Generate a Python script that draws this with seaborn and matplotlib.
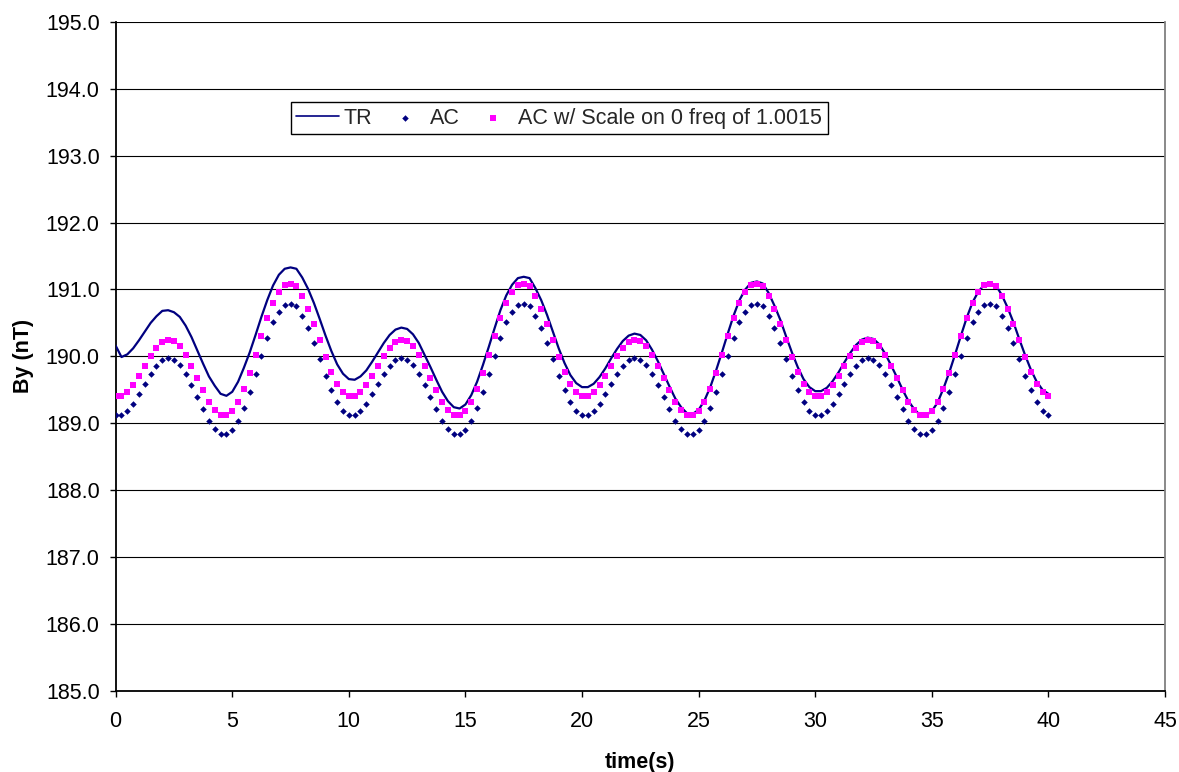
import numpy as np
import pandas as pd
import seaborn as sns
import matplotlib.pyplot as plt

# By (nT), one sample every 0.25 s from 0 s to 40 s
tr_by = [
    190.16, 189.99, 190.03, 190.12, 190.24, 190.37, 190.50, 190.60, 190.68, 190.69,
    190.66, 190.59, 190.46, 190.29, 190.09, 189.89, 189.70, 189.56, 189.44, 189.41,
    189.47, 189.62, 189.83, 190.06, 190.32, 190.59, 190.84, 191.06, 191.22, 191.31,
    191.33, 191.31, 191.18, 191.01, 190.80, 190.56, 190.31, 190.08, 189.88, 189.74,
    189.66, 189.65, 189.70, 189.79, 189.92, 190.06, 190.20, 190.32, 190.40, 190.43,
    190.41, 190.33, 190.20, 190.02, 189.84, 189.65, 189.47, 189.33, 189.24, 189.22,
    189.28, 189.42, 189.62, 189.87, 190.14, 190.42, 190.69, 190.91, 191.07, 191.17,
    191.19, 191.17, 191.02, 190.84, 190.62, 190.37, 190.12, 189.90, 189.72, 189.60,
    189.54, 189.54, 189.59, 189.69, 189.82, 189.97, 190.11, 190.23, 190.31, 190.34,
    190.32, 190.24, 190.10, 189.93, 189.74, 189.55, 189.37, 189.24, 189.15, 189.14,
    189.20, 189.34, 189.54, 189.79, 190.06, 190.34, 190.61, 190.84, 191.00, 191.10,
    191.12, 191.09, 190.95, 190.76, 190.55, 190.30, 190.06, 189.84, 189.66, 189.54,
    189.48, 189.48, 189.53, 189.63, 189.76, 189.91, 190.05, 190.17, 190.25, 190.28,
    190.26, 190.18, 190.04, 189.87, 189.69, 189.50, 189.33, 189.21, 189.12, 189.12,
    189.18, 189.31, 189.52, 189.76, 190.03, 190.31, 190.58, 190.81, 190.97, 191.07,
    191.09, 191.06, 190.92, 190.73, 190.51, 190.26, 190.02, 189.80, 189.62, 189.50,
    189.44,
]
ac_by = [
    189.13, 189.13, 189.19, 189.29, 189.43, 189.58, 189.73, 189.85, 189.94, 189.97,
    189.95, 189.87, 189.74, 189.57, 189.39, 189.21, 189.04, 188.92, 188.84, 188.84,
    188.90, 189.03, 189.23, 189.47, 189.74, 190.01, 190.28, 190.51, 190.67, 190.77,
    190.79, 190.76, 190.61, 190.42, 190.20, 189.96, 189.71, 189.49, 189.31, 189.19,
    189.13, 189.13, 189.19, 189.29, 189.43, 189.58, 189.73, 189.85, 189.94, 189.97,
    189.95, 189.87, 189.74, 189.57, 189.39, 189.21, 189.04, 188.92, 188.84, 188.84,
    188.90, 189.03, 189.23, 189.47, 189.74, 190.01, 190.28, 190.51, 190.67, 190.77,
    190.79, 190.76, 190.61, 190.42, 190.20, 189.96, 189.71, 189.49, 189.31, 189.19,
    189.13, 189.13, 189.19, 189.29, 189.43, 189.58, 189.73, 189.85, 189.94, 189.97,
    189.95, 189.87, 189.74, 189.57, 189.39, 189.21, 189.04, 188.92, 188.84, 188.84,
    188.90, 189.03, 189.23, 189.47, 189.74, 190.01, 190.28, 190.51, 190.67, 190.77,
    190.79, 190.76, 190.61, 190.42, 190.20, 189.96, 189.71, 189.49, 189.31, 189.19,
    189.13, 189.13, 189.19, 189.29, 189.43, 189.58, 189.73, 189.85, 189.94, 189.97,
    189.95, 189.87, 189.74, 189.57, 189.39, 189.21, 189.04, 188.92, 188.84, 188.84,
    188.90, 189.03, 189.23, 189.47, 189.74, 190.01, 190.28, 190.51, 190.67, 190.77,
    190.79, 190.76, 190.61, 190.42, 190.20, 189.96, 189.71, 189.49, 189.31, 189.19,
    189.13,
]
ac_scaled_by = [
    189.41, 189.41, 189.47, 189.57, 189.71, 189.86, 190.01, 190.13, 190.22, 190.25,
    190.23, 190.15, 190.02, 189.85, 189.67, 189.49, 189.32, 189.20, 189.12, 189.12,
    189.18, 189.31, 189.51, 189.75, 190.02, 190.30, 190.57, 190.80, 190.96, 191.06,
    191.08, 191.05, 190.90, 190.71, 190.49, 190.24, 189.99, 189.77, 189.59, 189.47,
    189.41, 189.41, 189.47, 189.57, 189.71, 189.86, 190.01, 190.13, 190.22, 190.25,
    190.23, 190.15, 190.02, 189.85, 189.67, 189.49, 189.32, 189.20, 189.12, 189.12,
    189.18, 189.31, 189.51, 189.75, 190.02, 190.30, 190.57, 190.80, 190.96, 191.06,
    191.08, 191.05, 190.90, 190.71, 190.49, 190.24, 189.99, 189.77, 189.59, 189.47,
    189.41, 189.41, 189.47, 189.57, 189.71, 189.86, 190.01, 190.13, 190.22, 190.25,
    190.23, 190.15, 190.02, 189.85, 189.67, 189.49, 189.32, 189.20, 189.12, 189.12,
    189.18, 189.31, 189.51, 189.75, 190.02, 190.30, 190.57, 190.80, 190.96, 191.06,
    191.08, 191.05, 190.90, 190.71, 190.49, 190.24, 189.99, 189.77, 189.59, 189.47,
    189.41, 189.41, 189.47, 189.57, 189.71, 189.86, 190.01, 190.13, 190.22, 190.25,
    190.23, 190.15, 190.02, 189.85, 189.67, 189.49, 189.32, 189.20, 189.12, 189.12,
    189.18, 189.31, 189.51, 189.75, 190.02, 190.30, 190.57, 190.80, 190.96, 191.06,
    191.08, 191.05, 190.90, 190.71, 190.49, 190.24, 189.99, 189.77, 189.59, 189.47,
    189.41,
]
sample_step = 0.25
series_labels = ['TR', 'AC', 'AC w/ Scale on 0 freq of 1.0015']
x_ticks = [0, 5, 10, 15, 20, 25, 30, 35, 40, 45]
y_ticks = [185.0, 186.0, 187.0, 188.0, 189.0, 190.0, 191.0, 192.0, 193.0, 194.0, 195.0]

time_s = np.arange(len(tr_by)) * sample_step
df = pd.DataFrame({'time': time_s, 'TR': tr_by, 'AC': ac_by, 'ACs': ac_scaled_by})

sns.set_theme(style='white')
plt.rcParams['font.family'] = ['Liberation Sans', 'DejaVu Sans']
fs = 15.5

fig = plt.figure(figsize=(11.79, 7.72), dpi=100)
ax = fig.add_axes([0.0981, 0.1053, 0.890, 0.8662])

# series: line first, markers on top
sns.lineplot(data=df, x='time', y='TR', color='#000080', linewidth=1.6,
             label=series_labels[0], ax=ax, zorder=3)
sns.scatterplot(data=df, x='time', y='AC', color='#000080', marker='D', s=11,
                linewidth=0, label=series_labels[1], ax=ax, zorder=4)
sns.scatterplot(data=df, x='time', y='ACs', color='#FF00FF', marker='s', s=14,
                linewidth=0, label=series_labels[2], ax=ax, zorder=5)

# axes
ax.set_xlim(0, 45)
ax.set_ylim(185, 195)
ax.set_xticks(x_ticks)
ax.set_yticks(y_ticks)
ax.set_yticklabels(['%.1f' % v for v in y_ticks])
ax.grid(axis='y', color='black', linewidth=0.8)
ax.grid(axis='x', visible=False)
ax.set_axisbelow(True)
for side in ['left', 'bottom']:
    ax.spines[side].set_color('black')
    ax.spines[side].set_linewidth(1.3)
ax.spines['right'].set_color('#808080')
ax.spines['right'].set_linewidth(1.3)
ax.spines['top'].set_visible(False)
ax.tick_params(axis='both', direction='out', length=4.5, width=1, color='black',
               labelsize=fs, labelcolor='black')
ax.tick_params(axis='x', pad=10, bottom=True)
ax.tick_params(axis='y', pad=7, left=True)

ax.set_xlabel('time(s)', fontsize=fs, fontweight='bold', color='black')
ax.set_ylabel('By (nT)', fontsize=fs, fontweight='bold', color='black')
ax.xaxis.set_label_coords(0.5, -0.107)
ax.xaxis.label.set_va('center')
ax.yaxis.set_label_coords(-0.088, 0.5)
ax.yaxis.label.set_va('center')

# legend
leg = ax.legend(loc='upper left', bbox_to_anchor=(0.167, 0.88), ncol=3, fontsize=fs,
                frameon=True, fancybox=False, framealpha=1, edgecolor='black',
                handlelength=2.0, handletextpad=0.2, columnspacing=0.5,
                borderpad=0.25, borderaxespad=0)
leg.get_frame().set_linewidth(1.0)
leg.legend_handles[0].set_linewidth(1.2)

fig.savefig('out.png', dpi=100, facecolor='white')
